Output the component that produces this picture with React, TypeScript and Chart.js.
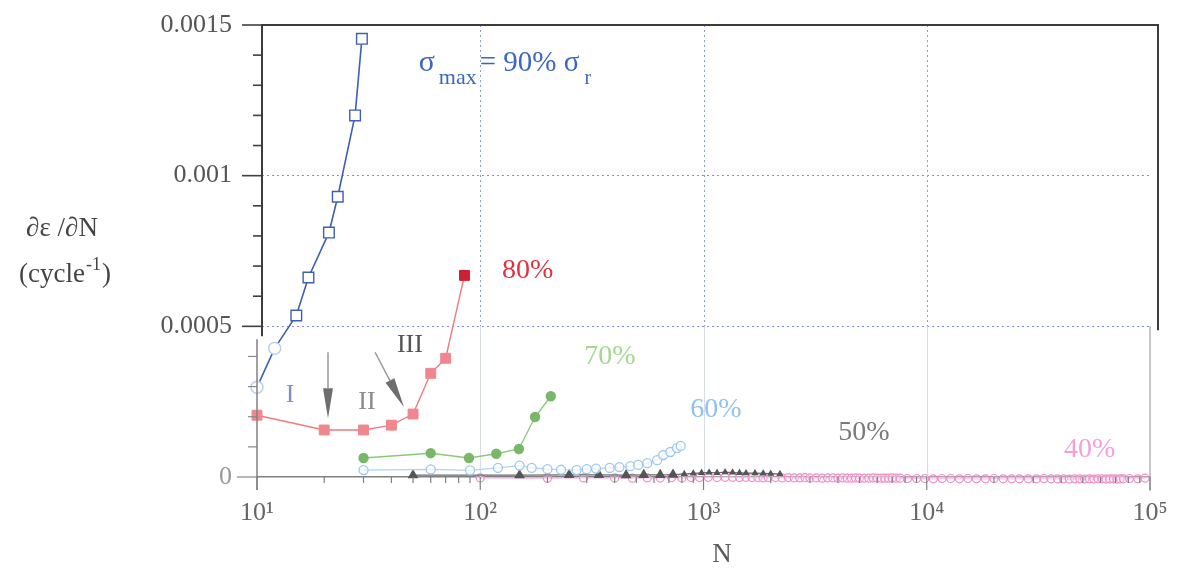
import React, { useEffect, useRef } from 'react';
import { Chart, registerables } from 'chart.js';

Chart.register(...registerables);

const FONT = "'Liberation Serif', 'DejaVu Serif', serif";

// ---------------- data ----------------
const cycles90 = [10, 12, 15, 17, 21, 23, 27.5, 29.5];
const rate90 = [0.000298, 0.000427, 0.000536, 0.000662, 0.000811, 0.00093, 0.0012, 0.001454];

const cycles80 = [10, 20, 30, 40, 50, 60, 70, 85];
const rate80 = [0.000205, 0.000156, 0.000156, 0.000172, 0.000209, 0.000344, 0.000394, 0.000669];

const cycles70 = [30, 60, 89, 118, 149, 176, 207];
const rate70 = [0.000063, 0.000079, 0.000063, 0.000077, 0.000093, 0.000199, 0.000268];

const cycles60 = [30, 60, 90, 120, 150, 170, 200, 230, 270, 300, 330, 380, 420, 470, 510, 560, 620, 660, 710, 760, 790];
const rate60 = [0.000023, 0.000025, 0.000022, 0.00003, 0.000038, 0.00003, 0.000026, 0.000024, 0.000023, 0.000026, 0.000028, 0.00003, 0.000033, 0.000036, 0.00004, 0.000046, 0.000056, 0.000073, 0.000083, 0.000096, 0.000103];

const cycles50 = [50, 150, 250, 340, 450, 540, 640, 730, 820, 900, 980, 1060, 1150, 1250, 1350, 1450, 1550, 1700, 1850, 2000, 2200];
const rate50 = [0.000006, 0.000006, 0.000007, 0.000007, 0.000006, 0.000007, 0.000007, 0.000008, 0.00001, 0.000012, 0.000014, 0.000015, 0.000014, 0.000016, 0.000015, 0.000014, 0.000013, 0.000013, 0.000012, 0.000011, 0.00001];

const cycles40 = [100, 200, 290, 400, 480, 560, 640, 720, 800, 880, 960, 1050, 1150, 1250, 1350, 1450, 1550, 1650, 1750, 1850, 1950, 2100, 2250, 2400, 2550, 2700, 2850, 3000, 3200, 3400, 3600, 3800, 4000, 4200, 4400, 4600, 4800, 5000, 5250, 5500, 5750, 6000, 6250, 6500, 6750, 7000, 7300, 7600, 8200, 9000, 9800, 10700, 11700, 12800, 14000, 15300, 16700, 18300, 20000, 22000, 24000, 26000, 28500, 31000, 33500, 36000, 38500, 41000, 43500, 46000, 48500, 51000, 53500, 56000, 58500, 61000, 63500, 66000, 68500, 71000, 73500, 76000, 81000, 88000, 95000];
const rate40 = [-0.000003, -0.000004, -0.000003, -0.000003, -0.000004, -0.000003, -0.000003, -0.000002, -0.000003, -0.000002, -0.000002, -0.000001, -0.000002, -0.000001, -0.000001, -0.000002, -0.000001, -0.000002, -0.000002, -0.000003, -0.000002, -0.000002, -0.000003, -0.000002, -0.000003, -0.000003, -0.000002, -0.000003, -0.000003, -0.000004, -0.000003, -0.000003, -0.000004, -0.000003, -0.000004, -0.000004, -0.000003, -0.000004, -0.000004, -0.000004, -0.000003, -0.000004, -0.000004, -0.000004, -0.000004, -0.000003, -0.000004, -0.000004, -0.000005, -0.000005, -0.000005, -0.000006, -0.000005, -0.000005, -0.000006, -0.000005, -0.000006, -0.000006, -0.000005, -0.000006, -0.000006, -0.000006, -0.000006, -0.000006, -0.000005, -0.000006, -0.000006, -0.000006, -0.000007, -0.000006, -0.000006, -0.000007, -0.000006, -0.000007, -0.000006, -0.000006, -0.000007, -0.000006, -0.000006, -0.000007, -0.000006, -0.000006, -0.000005, -0.000006, -0.000004];

// axes
const xMin = 10;
const xMax = 100000;
const xDecades = [10, 100, 1000, 10000, 100000];
const xTickLabels = ['10\u00B9', '10\u00B2', '10\u00B3', '10\u2074', '10\u2075'];
const yMin = 0;
const yMax = 0.0015;
const yTickValues = [0, 0.0001, 0.0002, 0.0003, 0.0004, 0.0005, 0.0006, 0.0007, 0.0008, 0.0009, 0.001, 0.0011, 0.0012, 0.0013, 0.0014, 0.0015];
const yLabelValues = [0, 0.0005, 0.001, 0.0015];
const yTickLabels = ['0', '0.0005', '0.001', '0.0015'];
const panelSplit = 0.0005;

// annotations (data coordinates)
const seriesLabels = ['80%', '70%', '60%', '50%', '40%'];
const seriesLabelN = [163, 381, 1137, 5227, 53700];
const seriesLabelRate = [0.000685, 0.0004, 0.000222, 0.000146, 0.0000894];
const seriesLabelColors = ['#e0323e', '#a2d892', '#8fc2f0', '#7a7a7a', '#f3a0d6'];

const stageLabels = ['I', 'II', 'III'];
const stageN = [14.06, 31.1, 48.4];
const stageRate = [0.000271, 0.000248, 0.000437];
const stageColors = ['#7b95b8', '#8a8a8a', '#555555'];

const arrowFromN = [20.8, 33.8];
const arrowFromRate = [0.000414, 0.000414];
const arrowToN = [20.8, 45.5];
const arrowToRate = [0.000195, 0.000232];

const titleN = 53;
const titleRate = 0.001348;

const near = (a: number, b: number) => Math.abs(a - b) < 1e-9;
const isDecade = (v: number) => xDecades.some((d) => Math.abs(d - v) < 1e-6);

const xTickValues: number[] = [];
for (let i = 0; i < xDecades.length - 1; i++) {
  for (let m = 1; m < 10; m++) xTickValues.push(xDecades[i] * m);
}
xTickValues.push(xDecades[xDecades.length - 1]);

const pts = (xs: number[], ys: number[]) => xs.map((x, i) => ({ x, y: ys[i] }));

function drawArrow(ctx: CanvasRenderingContext2D, x1: number, y1: number, x2: number, y2: number) {
  const ang = Math.atan2(y2 - y1, x2 - x1);
  const headLen = 30;
  const headHalf = 5;
  const bx = x2 - Math.cos(ang) * headLen;
  const by = y2 - Math.sin(ang) * headLen;
  ctx.save();
  ctx.strokeStyle = '#9a9a9a';
  ctx.lineWidth = 1.5;
  ctx.beginPath();
  ctx.moveTo(x1, y1);
  ctx.lineTo(bx, by);
  ctx.stroke();
  ctx.fillStyle = '#6e6e6e';
  ctx.beginPath();
  ctx.moveTo(x2, y2);
  ctx.lineTo(bx + Math.sin(ang) * headHalf, by - Math.cos(ang) * headHalf);
  ctx.lineTo(bx - Math.sin(ang) * headHalf, by + Math.cos(ang) * headHalf);
  ctx.closePath();
  ctx.fill();
  ctx.restore();
}

const annoPlugin = {
  id: 'annoPlugin',
  beforeDatasetsDraw(chart: any) {
    const { ctx, chartArea: a, scales } = chart;
    const x = scales.x;
    const y = scales.y;
    const ySplit = y.getPixelForValue(panelSplit);
    ctx.save();
    ctx.lineWidth = 1;
    for (const d of xDecades) {
      if (d <= xMin || d >= xMax) continue;
      const px = Math.round(x.getPixelForValue(d)) + 0.5;
      ctx.strokeStyle = '#8d9ad8';
      ctx.setLineDash([2, 3]);
      ctx.beginPath();
      ctx.moveTo(px, a.top);
      ctx.lineTo(px, ySplit);
      ctx.stroke();
      ctx.setLineDash([]);
      ctx.strokeStyle = '#d8dce8';
      ctx.beginPath();
      ctx.moveTo(px, ySplit);
      ctx.lineTo(px, a.bottom);
      ctx.stroke();
    }
    ctx.restore();
  },
  afterDraw(chart: any) {
    const { ctx, chartArea: a, scales } = chart;
    const x = scales.x;
    const y = scales.y;
    const ySplit = y.getPixelForValue(panelSplit);
    const upLeft = a.left + 5;
    const upRight = a.right + 8;
    ctx.save();

    // lower panel axes
    ctx.strokeStyle = '#808080';
    ctx.lineWidth = 1.5;
    ctx.beginPath();
    ctx.moveTo(a.left, ySplit + 13);
    ctx.lineTo(a.left, a.bottom + 13);
    ctx.stroke();
    ctx.strokeStyle = '#b4b4b4';
    ctx.beginPath();
    ctx.moveTo(a.right, ySplit);
    ctx.lineTo(a.right, a.bottom + 14);
    ctx.stroke();

    // x tick marks
    ctx.strokeStyle = '#808080';
    ctx.lineWidth = 1.2;
    for (const v of xTickValues) {
      const px = x.getPixelForValue(v);
      const len = isDecade(v) ? 13 : 6;
      ctx.beginPath();
      ctx.moveTo(px, a.bottom);
      ctx.lineTo(px, a.bottom + len);
      ctx.stroke();
    }

    // y tick marks
    for (const v of yTickValues) {
      const py = y.getPixelForValue(v);
      const major = yLabelValues.some((l) => near(l, v));
      const upper = v >= panelSplit - 1e-9;
      const base = upper ? upLeft : a.left;
      ctx.strokeStyle = upper ? '#404040' : '#888888';
      ctx.lineWidth = upper ? 1.6 : 1.2;
      ctx.beginPath();
      ctx.moveTo(base - (major ? 20 : 9), py);
      ctx.lineTo(base, py);
      ctx.stroke();
    }

    // upper panel frame
    ctx.strokeStyle = '#3c3c3c';
    ctx.lineWidth = 2;
    ctx.beginPath();
    ctx.moveTo(upLeft, ySplit + 10);
    ctx.lineTo(upLeft, a.top);
    ctx.lineTo(upRight, a.top);
    ctx.lineTo(upRight, ySplit + 4);
    ctx.stroke();

    // arrows
    for (let i = 0; i < arrowFromN.length; i++) {
      drawArrow(
        ctx,
        x.getPixelForValue(arrowFromN[i]),
        y.getPixelForValue(arrowFromRate[i]),
        x.getPixelForValue(arrowToN[i]),
        y.getPixelForValue(arrowToRate[i])
      );
    }

    // series labels
    ctx.textAlign = 'center';
    ctx.textBaseline = 'middle';
    ctx.font = `28px ${FONT}`;
    for (let i = 0; i < seriesLabels.length; i++) {
      ctx.fillStyle = seriesLabelColors[i];
      ctx.fillText(seriesLabels[i], x.getPixelForValue(seriesLabelN[i]), y.getPixelForValue(seriesLabelRate[i]));
    }
    ctx.font = `26px ${FONT}`;
    for (let i = 0; i < stageLabels.length; i++) {
      ctx.fillStyle = stageColors[i];
      ctx.fillText(stageLabels[i], x.getPixelForValue(stageN[i]), y.getPixelForValue(stageRate[i]));
    }

    // sigma title
    ctx.textAlign = 'left';
    ctx.textBaseline = 'alphabetic';
    ctx.fillStyle = '#3d66c2';
    let tx = x.getPixelForValue(titleN);
    const ty = y.getPixelForValue(titleRate);
    ctx.font = `30px ${FONT}`;
    ctx.fillText('\u03C3', tx, ty);
    tx += ctx.measureText('\u03C3').width + 4;
    ctx.font = `22px ${FONT}`;
    ctx.fillText('max', tx, ty + 13);
    tx += ctx.measureText('max').width + 3;
    ctx.font = `29px ${FONT}`;
    const mid = '= 90% \u03C3';
    ctx.fillText(mid, tx, ty);
    tx += ctx.measureText(mid).width + 5;
    ctx.font = `20px ${FONT}`;
    ctx.fillText('r', tx, ty + 13);

    // y axis title
    ctx.fillStyle = '#444444';
    ctx.textAlign = 'center';
    ctx.font = `27px ${FONT}`;
    ctx.fillText('\u2202\u03B5 /\u2202N', 62, 236);
    const p1 = '(cycle';
    const sup = '-1';
    const p2 = ')';
    ctx.font = `27px ${FONT}`;
    const w1 = ctx.measureText(p1).width;
    const w3 = ctx.measureText(p2).width;
    ctx.font = `18px ${FONT}`;
    const w2 = ctx.measureText(sup).width;
    let sx = 65 - (w1 + w2 + w3 + 2) / 2;
    ctx.textAlign = 'left';
    ctx.font = `27px ${FONT}`;
    ctx.fillText(p1, sx, 282);
    sx += w1 + 1;
    ctx.font = `18px ${FONT}`;
    ctx.fillText(sup, sx, 270);
    sx += w2 + 1;
    ctx.font = `27px ${FONT}`;
    ctx.fillText(p2, sx, 282);

    // x axis title
    ctx.textAlign = 'center';
    ctx.fillStyle = '#5a5a5a';
    ctx.font = `27px ${FONT}`;
    ctx.fillText('N', 722, 562);

    ctx.restore();
  },
};

export default function App() {
  const ref = useRef<HTMLCanvasElement | null>(null);
  useEffect(() => {
    if (!ref.current) return;
    const chart = new Chart(ref.current, {
      type: 'line',
      data: {
        datasets: [
          {
            label: '90%',
            data: pts(cycles90, rate90),
            borderColor: '#3d5fb4',
            borderWidth: 1.6,
            pointStyle: cycles90.map((_, i) => (i < 2 ? 'circle' : 'rect')) as any,
            pointRadius: cycles90.map((_, i) => (i < 2 ? 6 : 7.5)),
            pointBackgroundColor: '#ffffff',
            pointBorderColor: cycles90.map((_, i) => (i < 2 ? '#b6cdee' : '#3d5fb4')),
            pointBorderWidth: 1.4,
            clip: false as any,
          },
          {
            label: '80%',
            data: pts(cycles80, rate80),
            borderColor: '#f07a7e',
            borderWidth: 1.4,
            pointStyle: 'rect',
            pointRadius: 7,
            pointBackgroundColor: cycles80.map((_, i) => (i === cycles80.length - 1 ? '#cf1f33' : '#f2868e')),
            pointBorderColor: cycles80.map((_, i) => (i === cycles80.length - 1 ? '#cf1f33' : '#f2868e')),
            pointBorderWidth: 1,
            clip: false as any,
          },
          {
            label: '70%',
            data: pts(cycles70, rate70),
            borderColor: '#8cc87a',
            borderWidth: 1.4,
            pointStyle: 'circle',
            pointRadius: 4.5,
            pointBackgroundColor: '#79b868',
            pointBorderColor: '#79b868',
            clip: false as any,
          },
          {
            label: '60%',
            data: pts(cycles60, rate60),
            borderColor: '#b0d2f2',
            borderWidth: 1.2,
            pointStyle: 'circle',
            pointRadius: 4.5,
            pointBackgroundColor: 'rgba(255,255,255,0.7)',
            pointBorderColor: '#9cc6ef',
            pointBorderWidth: 1.3,
            clip: false as any,
          },
          {
            label: '50%',
            data: pts(cycles50, rate50),
            borderColor: '#6a6a6a',
            borderWidth: 1.2,
            pointStyle: 'triangle',
            pointRadius: cycles50.map((v) => (v > 800 ? 3 : 5)),
            pointBackgroundColor: '#555555',
            pointBorderColor: '#555555',
            clip: false as any,
          },
          {
            label: '40%',
            data: pts(cycles40, rate40),
            borderColor: '#f5b2dc',
            borderWidth: 1.2,
            pointStyle: 'circle',
            pointRadius: 4,
            pointBackgroundColor: 'rgba(255,255,255,0.3)',
            pointBorderColor: '#f08cca',
            pointBorderWidth: 1.2,
            clip: false as any,
          },
        ],
      },
      options: {
        animation: false,
        responsive: false,
        devicePixelRatio: 1,
        layout: { padding: { top: 25, right: 30, left: 0, bottom: 0 } },
        plugins: { legend: { display: false }, tooltip: { enabled: false } },
        elements: { line: { tension: 0 } },
        scales: {
          x: {
            type: 'logarithmic',
            min: xMin,
            max: xMax,
            afterBuildTicks: (s: any) => {
              s.ticks = xTickValues.map((v) => ({ value: v }));
            },
            afterFit: (s: any) => {
              s.height = 92;
              s.paddingLeft = 0;
              s.paddingRight = 0;
            },
            border: { display: true, color: '#808080', width: 1.5 },
            grid: { display: false, drawTicks: false },
            ticks: {
              autoSkip: false,
              maxRotation: 0,
              padding: 21,
              color: '#666666',
              font: { family: FONT, size: 26 },
              callback: (v: any) => {
                const i = xDecades.findIndex((d) => Math.abs(d - Number(v)) < 1e-6);
                return i >= 0 ? xTickLabels[i] : '';
              },
            },
          },
          y: {
            type: 'linear',
            min: yMin,
            max: yMax,
            afterBuildTicks: (s: any) => {
              s.ticks = yTickValues.map((v) => ({ value: v }));
            },
            afterFit: (s: any) => {
              s.width = 257;
              s.paddingTop = 0;
              s.paddingBottom = 0;
            },
            border: { display: false, dash: [2, 3] },
            grid: {
              drawTicks: false,
              lineWidth: 1,
              color: (c: any) =>
                c.tick && (near(c.tick.value, 0.0005) || near(c.tick.value, 0.001)) ? '#7f8fd6' : 'rgba(0,0,0,0)',
            },
            ticks: {
              autoSkip: false,
              padding: 25,
              color: (c: any) => (c.tick && c.tick.value === 0 ? '#999999' : '#555555'),
              font: { family: FONT, size: 26 },
              callback: (v: any) => {
                const i = yLabelValues.findIndex((l) => near(l, Number(v)));
                return i >= 0 ? yTickLabels[i] : '';
              },
            },
          },
        },
      },
      plugins: [annoPlugin],
    } as any);
    return () => chart.destroy();
  }, []);

  return (
    <div style={{ position: 'absolute', left: 0, top: 0, width: 1180, height: 569, background: '#fff' }}>
      <canvas ref={ref} width={1180} height={569} style={{ width: 1180, height: 569 }} />
    </div>
  );
}
